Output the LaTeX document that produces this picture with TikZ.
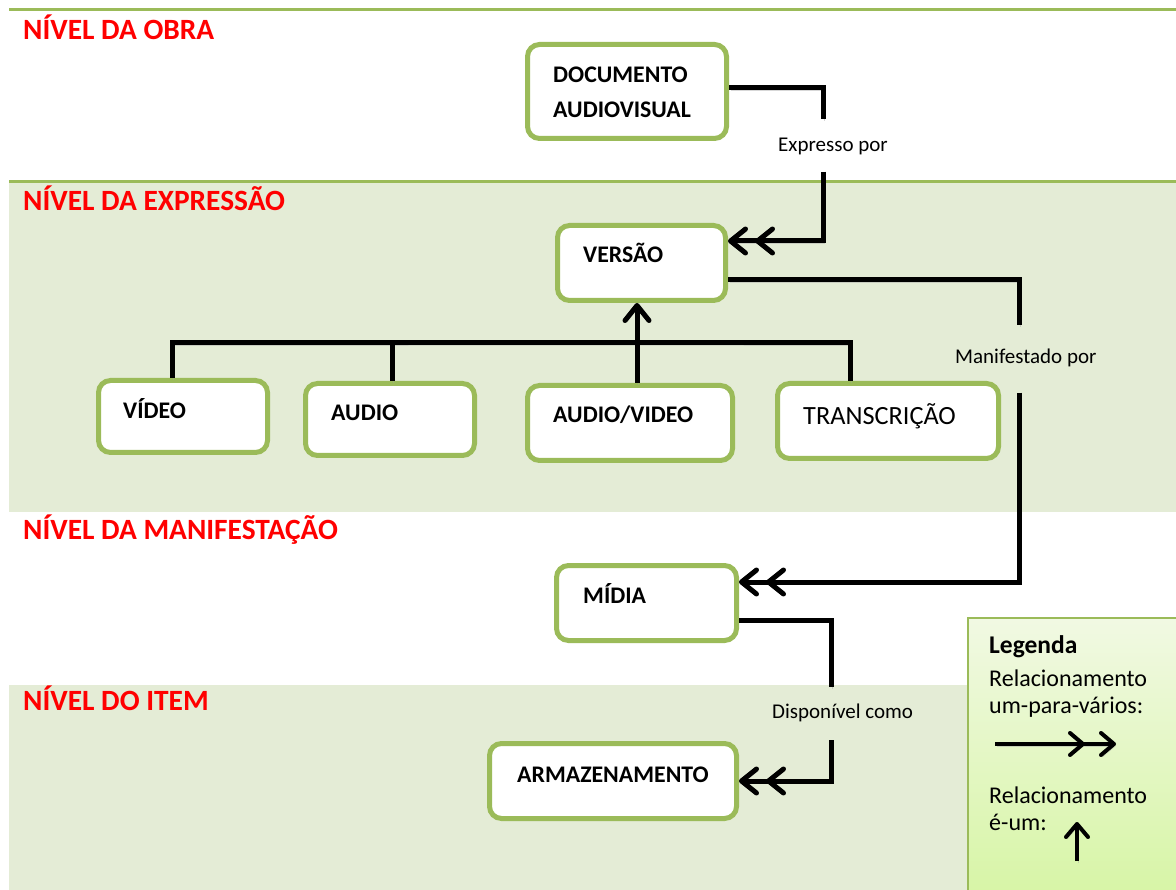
\documentclass[tikz,border=0pt]{standalone}
\usepackage{fontspec}
\setmainfont{Carlito}
\usetikzlibrary{arrows.meta,calc}
\definecolor{olive}{HTML}{9BBB59}
\definecolor{bandfill}{HTML}{E4ECD6}
\definecolor{titlered}{HTML}{FF0000}
\definecolor{legtop}{HTML}{F1F9E3}
\definecolor{legbot}{HTML}{D7F5A6}

\begin{document}
\begin{tikzpicture}[x=1pt,y=-1pt,
  box/.style={draw=olive, line width=5pt, fill=white, rounded corners=12pt, inner sep=0pt},
  boxtext/.style={anchor=base west, inner sep=0pt, font=\fontsize{23.8}{28}\selectfont\bfseries},
  level/.style={anchor=base west, inner sep=0pt, text=titlered, font=\fontsize{29.4}{35}\selectfont\bfseries},
  rel/.style={anchor=base west, inner sep=0pt, font=\fontsize{21}{25}\selectfont},
  legtext/.style={anchor=base west, inner sep=0pt, font=\fontsize{24}{29}\selectfont},
  shadowed/.style={preaction={draw=black!35, opacity=0.45, transform canvas={shift={(1.5pt,-2pt)}}}},
  conn/.style={line width=5pt, black, shadowed},
  isa/.style={-{Straight Barb[length=15pt,width=24pt,round]}},
  many/.style={isa, postaction={draw, isa, shorten >=27pt}},
  legconn/.style={line width=4pt, black, shadowed},
  legisa/.style={-{Straight Barb[length=13pt,width=22pt,round]}},
  legmany/.style={legisa, postaction={draw, legisa, shorten >=31pt}},
]
\useasboundingbox (0,0) rectangle (1176,890);

% level bands
\fill[bandfill] (9,183) rectangle (1176,512);
\fill[bandfill] (9,685) rectangle (1176,890);
\draw[olive, line width=3pt] (9,10) -- (1176,10);
\draw[olive, line width=3pt] (9,182) -- (1176,182);

\node[level] (lv-obra) at (23,40) {NÍVEL DA OBRA};
\node[level] (lv-expr) at (23,211) {NÍVEL DA EXPRESSÃO};
\node[level] (lv-manif) at (23,539) {NÍVEL DA MANIFESTAÇÃO};
\node[level] (lv-item) at (23,710) {NÍVEL DO ITEM};

% relationship labels
\node[rel] (r-expr) at (778,152) {Expresso por};
\node[rel] (r-manif) at (955,364) {Manifestado por};
\node[rel] (r-disp) at (772,718) {Disponível como};

% gaps around the labels
\coordinate (e1) at (823,119);
\coordinate (e2) at (823,172);
\coordinate (m1) at (1019,325);
\coordinate (m2) at (1019,393);
\coordinate (d1) at (831,687);
\coordinate (d2) at (831,740);
\coordinate (hub) at (637,343);

% entity boxes (placed first so connectors can refer to them)
\node[box, minimum width=199pt, minimum height=94pt] (doc) at (627,91.5) {};
\node[box, minimum width=168pt, minimum height=75pt] (ver) at (641.5,263) {};
\node[box, minimum width=169pt, minimum height=72pt] (vid) at (183,416.5) {};
\node[box, minimum width=169pt, minimum height=72pt] (aud) at (390,419.5) {};
\node[box, minimum width=205pt, minimum height=75pt] (av) at (630,423) {};
\node[box, minimum width=221pt, minimum height=75pt] (tra) at (888,421) {};
\node[box, minimum width=180pt, minimum height=75pt] (mid) at (646.5,603) {};
\node[box, minimum width=247pt, minimum height=75pt] (arm) at (613,781) {};

% one-to-many relationships
\draw[conn] ([yshift=3.5pt]doc.east) -| (e1);
\draw[conn, many] (e2) |- ([yshift=22pt]ver.east);
\draw[conn] ([yshift=-17pt]ver.east) -| (m1);
\draw[conn, many] (m2) |- ([yshift=21pt]mid.east);
\draw[conn] ([yshift=-17pt]mid.east) -| (d1);
\draw[conn, many] (d2) |- (arm.east);

% is-a hierarchy
\draw[conn] ([xshift=-11pt]vid.north) |- (hub) -| ([xshift=-38pt]tra.north);
\draw[conn] ([xshift=2pt]aud.north) -- ([xshift=2pt]aud.north |- hub);
\draw[conn, isa] ([xshift=7pt]av.north) -- ([xshift=7pt]av.north |- ver.south);

% box captions
\node[boxtext] (doc-t1) at (553,83) {DOCUMENTO};
\node[boxtext] (doc-t2) at (553,118) {AUDIOVISUAL};
\node[boxtext] (ver-t) at (583,263) {VERSÃO};
\node[boxtext] (vid-t) at (123,419) {VÍDEO};
\node[boxtext] (aud-t) at (331,421) {AUDIO};
\node[boxtext] (av-t) at (553,423) {AUDIO/VIDEO};
\node[boxtext, font=\fontsize{26.3}{31}\selectfont] (tra-t) at (803,425) {TRANSCRIÇÃO};
\node[boxtext] (mid-t) at (583,603) {MÍDIA};
\node[boxtext] (arm-t) at (517,782) {ARMAZENAMENTO};

% legend
\draw[olive, line width=1.5pt, top color=legtop, bottom color=legbot] (968,618) rectangle (1182,895);
\node[legtext, font=\fontsize{25.5}{30}\selectfont\bfseries] (leg-title) at (989,653) {Legenda};
\node[legtext] (leg-l1) at (989,686) {Relacionamento};
\node[legtext] (leg-l2) at (989,713) {um-para-vários:};
\node[legtext] (leg-l3) at (989,803) {Relacionamento};
\node[legtext] (leg-l4) at (989,830) {é-um:};
\coordinate (lm-a) at (995,744);
\coordinate (lm-b) at (1116,744);
\coordinate (li-a) at (1077,861);
\coordinate (li-b) at (1077,822);
\draw[legconn, legmany] (lm-a) -- (lm-b);
\draw[legconn, legisa] (li-a) -- (li-b);
\end{tikzpicture}
\end{document}
